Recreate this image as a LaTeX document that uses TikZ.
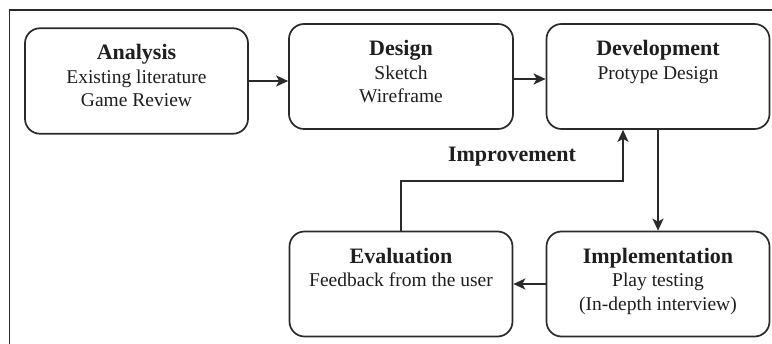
\documentclass[tikz,border=0pt]{standalone}
\usepackage{fontspec}
\setmainfont{Liberation Serif}
\usetikzlibrary{arrows.meta}

\definecolor{ink}{HTML}{1E1E1E}
\definecolor{edge}{HTML}{2A2A2A}

\tikzset{
  stagebox/.style={draw=edge, line width=1.7pt, rounded corners=15pt,
    minimum width=#1, minimum height=105pt, inner sep=0pt},
  stagetext/.style={anchor=north, align=center, inner sep=0pt, text=ink,
    font=\fontsize{19.5}{23.5}\selectfont},
  flow/.style={draw=edge, line width=1.7pt,
    -{Stealth[length=12pt,width=11pt,inset=3pt]}},
  frameline/.style={draw=edge, line width=1.3pt},
}
\newcommand{\stagetitle}[1]{{\fontsize{22}{23.5}\selectfont\bfseries #1}}

\begin{document}
\begin{tikzpicture}[x=1pt, y=-1pt]
  \useasboundingbox (0,0) rectangle (772,344);

  % open frame: top rule and left rule
  \draw[frameline] (772,10) -- (9.5,10) -- (9.5,344);

  % stage boxes
  \node[stagebox=223pt, minimum height=105.5pt] (ana) at (136.5,81) {};
  \node[stagebox=224pt] (des) at (401,76.5) {};
  \node[stagebox=223pt] (dev) at (658,76.5) {};
  \node[stagebox=223pt] (eva) at (401,284) {};
  \node[stagebox=223pt] (imp) at (658,284) {};

  % stage texts
  \node[stagetext] (anat) at ([yshift=-17pt]ana.north)
    {\stagetitle{Analysis}\\Existing literature\\Game Review};
  \node[stagetext] (dest) at ([yshift=-17pt]des.north)
    {\stagetitle{Design}\\Sketch\\Wireframe};
  \node[stagetext] (devt) at ([yshift=-17pt]dev.north)
    {\stagetitle{Development}\\Protype Design};
  \node[stagetext] (evat) at ([yshift=-17pt]eva.north)
    {\stagetitle{Evaluation}\\Feedback from the user};
  \node[stagetext] (impt) at ([yshift=-17pt]imp.north)
    {\stagetitle{Implementation}\\Play testing\\(In-depth interview)};

  % connectors
  \draw[flow] (ana.east) -- (ana.east -| des.west);
  \draw[flow] ([yshift=-2.5pt]des.east) -- ([yshift=-2.5pt]dev.west);
  \draw[flow] (dev.south) -- (imp.north);
  \draw[flow] (imp.west) -- (eva.east);
  \coordinate (bend) at (401,181);
  \coordinate (rise) at (623,181);
  \draw[flow] (eva.north) -- (bend) -- (rise) -- (rise |- dev.south);

  \node[font=\fontsize{22}{24}\selectfont\bfseries, text=ink] (imptxt)
    at (512,157) {Improvement};
\end{tikzpicture}
\end{document}
